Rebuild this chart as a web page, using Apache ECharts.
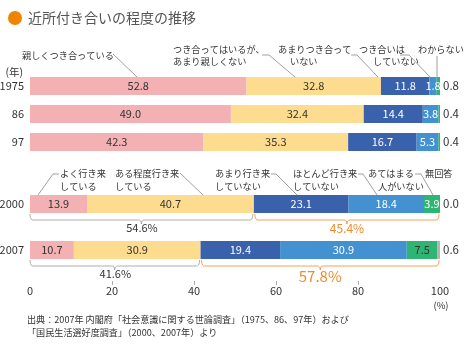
<!DOCTYPE html>
<html><head><meta charset="utf-8">
<script src="https://cdn.jsdelivr.net/npm/echarts@6/dist/echarts.min.js"></script>
<style>html,body{margin:0;padding:0;background:#fff}#c{width:465px;height:355px}</style>
</head><body><div id="c"></div>
<script>
// ---- data ----
const yearsA = ['1975', '86', '97'];
const namesA = ['親しくつき合っている', 'つき合ってはいるが、あまり親しくない', 'あまりつき合っていない', 'つき合いはしていない', 'わからない'];
const closeA = [52.8, 49.0, 42.3];
const someA = [32.8, 32.4, 35.3];
const littleA = [11.8, 14.4, 16.7];
const noneA = [1.8, 3.8, 5.3];
const unknownA = [0.8, 0.4, 0.4];

const yearsB = ['2000', '2007'];
const namesB = ['よく行き来している', 'ある程度行き来している', 'あまり行き来していない', 'ほとんど行き来していない', 'あてはまる人がいない', '無回答'];
const oftenB = [13.9, 10.7];
const someB = [40.7, 30.9];
const littleB = [23.1, 19.4];
const rarelyB = [18.4, 30.9];
const nobodyB = [3.9, 7.5];
const noAnswerB = [0.0, 0.6];

const positiveShare = [54.6, 41.6];   // よく + ある程度
const negativeShare = [45.4, 57.8];   // 残り

const xTickLabels = [0, 20, 40, 60, 80, 100];
const xTickMarks = [20, 40, 60, 80];

// ---- styles ----
const FONT = '"Noto Sans CJK JP", "Noto Sans", sans-serif';
const colorsA = ['#f3b1b4', '#fddc8f', '#3a61ab', '#4391d0', '#2fb573'];
const colorsB = ['#f3b1b4', '#fddc8f', '#3a61ab', '#4391d0', '#2fb573', '#b4b4b4'];
const labelColorsA = ['#333', '#333', '#fff', '#fff'];
const labelColorsB = ['#333', '#333', '#fff', '#fff'];
const ORANGE = '#f08a2e';

const chart = echarts.init(document.getElementById('c'), null, {renderer: 'canvas'});

const fmt = p => Number(p.value).toFixed(1);

function makeSeries(valuesList, names, colors, labelColors, xi, stack) {
  return valuesList.map((vals, i) => {
    const last = i === valuesList.length - 1;
    return {
      type: 'bar', name: names[i], stack: stack, xAxisIndex: xi, yAxisIndex: xi,
      barWidth: 18,
      itemStyle: {color: colors[i]},
      data: vals.map(v => ({value: v})),
      label: last ? {
        show: true, position: 'right', distance: 3, formatter: fmt,
        fontFamily: FONT, fontSize: 11.5, color: '#333'
      } : {
        show: true, position: 'inside', formatter: fmt,
        fontFamily: FONT, fontSize: 11, color: labelColors[i] || '#333'
      },
      emphasis: {disabled: true},
      silent: true,
      animation: false
    };
  });
}

const seriesA = makeSeries([closeA, someA, littleA, noneA, unknownA], namesA, colorsA, labelColorsA, 0, 'a');
const seriesB = makeSeries([oftenB, someB, littleB, rarelyB, nobodyB, noAnswerB], namesB, colorsB, labelColorsB, 1, 'b');
seriesB[4].data[0].label = {color: '#fff'};
seriesB[4].data[1].label = {color: '#333'};

const yAxisCommon = {
  type: 'category', inverse: true,
  axisLine: {show: false}, axisTick: {show: false}, splitLine: {show: false},
  axisLabel: {margin: 6, fontSize: 11, color: '#333', fontFamily: FONT}
};

chart.setOption({
  animation: false,
  textStyle: {fontFamily: FONT},
  grid: [
    {left: 30, width: 410, top: 72, height: 84, outerBoundsMode: 'none', containLabel: false},
    {left: 30, width: 410, top: 181, height: 92, outerBoundsMode: 'none', containLabel: false}
  ],
  xAxis: [
    {gridIndex: 0, type: 'value', min: 0, max: 100, show: false},
    {gridIndex: 1, type: 'value', min: 0, max: 100, interval: 20, offset: 8,
      axisLine: {show: false}, splitLine: {show: false},
      axisTick: {show: true, length: 4, customValues: xTickMarks, lineStyle: {color: '#aaa'}},
      axisLabel: {margin: 4, fontSize: 11, color: '#333', fontFamily: FONT, customValues: xTickLabels}}
  ],
  yAxis: [
    Object.assign({gridIndex: 0, data: yearsA}, yAxisCommon),
    Object.assign({gridIndex: 1, data: yearsB}, yAxisCommon)
  ],
  series: seriesA.concat(seriesB)
});

// ---- annotations ----
const AF = 9.2;
function txt(s, x, y, opt) {
  return Object.assign({type: 'text', x: x, y: y, silent: true,
    style: {text: s, fontSize: AF, fill: '#333', fontFamily: FONT, textVerticalAlign: 'middle', textAlign: 'left'}}, opt || {});
}
function line(pts, color) {
  return {type: 'polyline', silent: true, shape: {points: pts},
    style: {stroke: color || '#777', lineWidth: 0.7, fill: null}};
}

const g = [];
g.push({type: 'circle', shape: {cx: 15, cy: 18, r: 7}, style: {fill: '#f08300'}, silent: true});
g.push({type: 'text', x: 28, y: 18, silent: true,
  style: {text: '近所付き合いの程度の推移', fontSize: 14, fill: '#555', fontFamily: FONT, textVerticalAlign: 'middle'}});
g.push({type: 'text', x: 23, y: 72, silent: true,
  style: {text: '(年)', fontSize: 10.5, fill: '#333', fontFamily: FONT, textAlign: 'right', textVerticalAlign: 'middle'}});

// top annotations
g.push(txt('親しくつき合っている', 22, 56));
g.push(line([[113, 54], [137, 77]]));
g.push(txt('つき合ってはいるが、', 173, 50));
g.push(txt('あまり親しくない', 173, 62));
g.push(line([[262, 55], [269, 55], [295, 77]]));
g.push(txt('あまりつき合って', 278, 50));
g.push(txt('いない', 290, 62));
g.push(line([[351, 55], [357, 55], [378, 77]]));
g.push(txt('つき合いは', 359, 50));
g.push(txt('していない', 373, 62));
g.push(line([[400, 55], [409, 55], [430, 77]]));
g.push(txt('わからない', 418, 50));
g.push(line([[437, 56], [437, 77]]));

// bottom annotations
g.push(txt('よく行き来', 60, 174));
g.push(txt('している', 60, 187));
g.push(line([[59, 174], [53, 174], [38, 195]]));
g.push(txt('ある程度行き来', 115, 174));
g.push(txt('している', 115, 187));
g.push(line([[180, 173], [203, 195]]));
g.push(txt('あまり行き来', 215, 174));
g.push(txt('していない', 215, 187));
g.push(line([[271, 174], [276, 174], [297, 195]]));
g.push(txt('ほとんど行き来', 293, 174));
g.push(txt('していない', 293, 187));
g.push(line([[358, 174], [363, 174], [377, 195]]));
g.push(txt('あてはまる', 368, 174));
g.push(txt('人がいない', 378, 187));
g.push(line([[415, 174], [421, 174], [433, 195]]));
g.push(txt('無回答', 425, 174));

g.push({type: 'text', x: 441, y: 305, silent: true,
  style: {text: '(%)', fontSize: 9.5, fill: '#333', fontFamily: FONT, textAlign: 'center', textVerticalAlign: 'middle'}});
g.push({type: 'text', x: 27, y: 320, silent: true,
  style: {text: '出典：2007年 内閣府「社会意識に関する世論調査」（1975、86、97年）および', fontSize: 9.1, fill: '#333', fontFamily: FONT, textVerticalAlign: 'middle'}});
g.push({type: 'text', x: 27, y: 333, silent: true,
  style: {text: '「国民生活選好度調査」（2000、2007年）より', fontSize: 9.1, fill: '#333', fontFamily: FONT, textVerticalAlign: 'middle'}});

// braces computed from the axis scale
function px(v, cat) { return chart.convertToPixel({xAxisIndex: 1, yAxisIndex: 1}, [v, cat]); }
function quad(p0, c, p1, n) {
  const out = [];
  for (let k = 1; k <= n; k++) {
    const t = k / n, a = (1 - t) * (1 - t), b = 2 * (1 - t) * t, d = t * t;
    out.push([a * p0[0] + b * c[0] + d * p1[0], a * p0[1] + b * c[1] + d * p1[1]]);
  }
  return out;
}
function brace(x1, x2, y0, color) {
  const y1 = y0 + 6, xm = (x1 + x2) / 2, r = 3;
  let pts = [[x1, y0]];
  pts = pts.concat(quad([x1, y0], [x1, y1], [x1 + r, y1], 5));
  pts.push([xm - r, y1]);
  pts = pts.concat(quad([xm - r, y1], [xm, y1], [xm, y1 + 4], 4));
  pts = pts.concat(quad([xm, y1 + 4], [xm, y1], [xm + r, y1], 4));
  pts.push([x2 - r, y1]);
  pts = pts.concat(quad([x2 - r, y1], [x2, y1], [x2, y0], 5));
  return {type: 'polyline', silent: true, shape: {points: pts}, style: {stroke: color, lineWidth: 0.8, fill: null}};
}
yearsB.forEach((yr, i) => {
  const p0 = px(0, yr), p1 = px(positiveShare[i], yr), p2 = px(100, yr);
  const y0 = p0[1] + 10;
  g.push(brace(p0[0], p1[0] - 1, y0, '#999'));
  g.push(brace(p1[0] + 1, p2[0] - 1, y0, ORANGE));
  g.push({type: 'text', x: (p0[0] + p1[0]) / 2, y: y0 + 14, silent: true,
    style: {text: positiveShare[i].toFixed(1) + '%', fontSize: 11, fill: '#333', fontFamily: FONT, textAlign: 'center', textVerticalAlign: 'middle'}});
  g.push({type: 'text', x: (p1[0] + p2[0]) / 2, y: y0 + 14 + (i ? 2 : 0), silent: true,
    style: {text: negativeShare[i].toFixed(1) + '%', fontSize: i ? 15 : 12, fill: ORANGE, fontFamily: FONT, textAlign: 'center', textVerticalAlign: 'middle'}});
});

chart.setOption({graphic: g});
</script></body></html>
